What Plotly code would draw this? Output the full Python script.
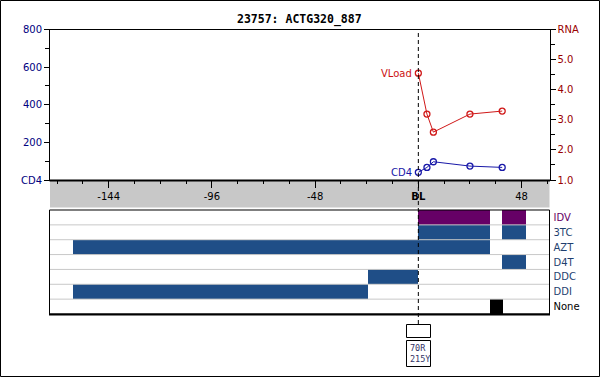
import plotly.graph_objects as go

W, H = 600, 377

# ---- data ----
vload_x = [0, 4, 7, 24, 39]
vload_y = [4.55, 3.19, 2.59, 3.19, 3.29]
cd4_x = [0, 4, 7, 24, 39]
cd4_y = [41, 67, 97, 74, 67]

drugs = ['IDV', '3TC', 'AZT', 'D4T', 'DDC', 'DDI', 'None']
drug_colors = {'IDV': '#660066', '3TC': '#1f4e87', 'AZT': '#1f4e87', 'D4T': '#1f4e87',
               'DDC': '#1f4e87', 'DDI': '#1f4e87', 'None': '#000000'}
label_colors = {'IDV': '#660066', 'None': '#000000'}
treat_drug = ['IDV', 'IDV', '3TC', '3TC', 'AZT', 'D4T', 'DDC', 'DDI', 'None']
treat_start = [0, 39, 0, 39, -160.4, 39, -23.5, -160.4, 33.2]
treat_end = [33.5, 50, 33.5, 50, 33.5, 50, 0, -23.5, 39.5]

x_tickvals = [-144, -96, -48, 0, 48]
x_ticktext = ['-144', '-96', '-48', '<b>BL</b>', '48']
cd4_tickvals = [0, 200, 400, 600, 800]
cd4_ticktext = ['CD4', '200', '400', '600', '800']
rna_tickvals = [1, 2, 3, 4, 5, 6]
rna_ticktext = ['1.0', '2.0', '3.0', '4.0', '5.0', 'RNA']
mutations = ['70R', '215Y']

XR = [-171.3, 61.0]


def px(x):
    return x / W


def py(y):
    return 1 - y / H


fig = go.Figure()

# top plot traces
fig.add_trace(go.Scatter(x=vload_x, y=vload_y, mode='lines+markers', yaxis='y2', xaxis='x',
                         line=dict(color='#d01818', width=1),
                         marker=dict(symbol='circle-open', size=6, color='#d01818', line=dict(width=1.3)),
                         showlegend=False, hoverinfo='skip'))
fig.add_trace(go.Scatter(x=cd4_x, y=cd4_y, mode='lines+markers', yaxis='y', xaxis='x',
                         line=dict(color='#1818a8', width=1),
                         marker=dict(symbol='circle-open', size=6, color='#1818a8', line=dict(width=1.3)),
                         showlegend=False, hoverinfo='skip'))

# treatment bars
for d, s, e in zip(treat_drug, treat_start, treat_end):
    fig.add_trace(go.Bar(x=[e - s], base=[s], y=[drugs.index(d)], orientation='h', width=1.0,
                         marker=dict(color=drug_colors[d], line=dict(width=0)),
                         xaxis='x2', yaxis='y3', showlegend=False, hoverinfo='skip'))

font = 'DejaVu Sans'
shapes = []
# gray band behind x tick labels
shapes.append(dict(type='rect', xref='paper', yref='paper', x0=px(50), x1=px(549.5), y0=py(207.5), y1=py(180),
                   fillcolor='#c8c8c8', line=dict(width=0), layer='below'))
# thicker bottom axis line
shapes.append(dict(type='line', xref='paper', yref='paper', x0=px(49.5), x1=px(550), y0=py(180.5), y1=py(180.5),
                   line=dict(color='black', width=2), layer='above'))
# row separators
for i in range(6):
    shapes.append(dict(type='line', xref='x2 domain', yref='y3', x0=0, x1=1, y0=i + 0.5, y1=i + 0.5,
                       line=dict(color='#c8c8c8', width=1), layer='above'))
# panel border
shapes.append(dict(type='rect', xref='paper', yref='paper', x0=px(49.5), x1=px(549.5), y0=py(314), y1=py(210),
                   line=dict(color='black', width=1)))
shapes.append(dict(type='line', xref='paper', yref='paper', x0=px(49), x1=px(550), y0=py(314.5), y1=py(314.5),
                   line=dict(color='black', width=2)))
# baseline dashed line
shapes.append(dict(type='line', xref='x', yref='paper', x0=0, x1=0, y0=py(324), y1=py(29.5),
                   line=dict(color='black', width=1, dash='4px,3px'), layer='above'))
# mutation boxes
shapes.append(dict(type='rect', xref='paper', yref='paper', x0=px(406.5), x1=px(430.5), y0=py(337.5), y1=py(324.5),
                   line=dict(color='black', width=1), fillcolor='white'))
shapes.append(dict(type='rect', xref='paper', yref='paper', x0=px(406.5), x1=px(430.5), y0=py(366.5), y1=py(340.5),
                   line=dict(color='black', width=1), fillcolor='white'))
# outer border
shapes.append(dict(type='rect', xref='paper', yref='paper', x0=px(0.5), x1=px(599.5), y0=py(376.5), y1=py(0.5),
                   line=dict(color='black', width=1)))

annotations = [
    dict(text='<b>23757: ACTG320_887</b>', xref='paper', yref='paper', x=px(299), y=py(20),
         xanchor='center', yanchor='middle',
         showarrow=False, font=dict(family='DejaVu Sans Mono', size=11.5, color='black')),
    dict(text='VLoad', xref='x', yref='y2', x=vload_x[0], y=vload_y[0], xanchor='right', yanchor='middle',
         xshift=-4, showarrow=False, font=dict(family=font, size=10, color='#cc1111')),
    dict(text='CD4', xref='x', yref='y', x=cd4_x[0], y=cd4_y[0], xanchor='right', yanchor='middle',
         xshift=-4, showarrow=False, font=dict(family=font, size=10, color='#1818a8')),
    dict(text='<br>'.join(mutations), xref='paper', yref='paper', x=px(407.5), y=py(353.5),
         xanchor='left', yanchor='middle',
         align='left', showarrow=False, font=dict(family='DejaVu Sans Mono', size=8.5, color='#333366')),
]

drug_ticktext = ['<span style="color:%s">%s</span>' % (label_colors.get(d, '#1f3f6f'), d) for d in drugs]

fig.update_layout(
    width=W, height=H, margin=dict(l=0, r=0, t=0, b=0, autoexpand=False),
    paper_bgcolor='white', plot_bgcolor='rgba(0,0,0,0)',
    barmode='overlay', bargap=0,
    shapes=shapes, annotations=annotations,
    xaxis=dict(domain=[px(50), px(549.5)], range=XR, tickvals=x_tickvals, ticktext=x_ticktext,
               ticks='outside', ticklen=7, tickcolor='black', showgrid=False, zeroline=False,
               showline=True, mirror=True, linecolor='black', linewidth=1, automargin=False,
               minor=dict(tickvals=[v for v in range(-168, 61, 12) if v not in x_tickvals],
                          ticks='outside', ticklen=3, tickcolor='black'),
               tickfont=dict(family=font, size=10, color='black'), anchor='y', fixedrange=True),
    yaxis=dict(domain=[py(180), py(29.5)], range=[0, 800], tickvals=cd4_tickvals, ticktext=cd4_ticktext,
               ticks='outside', ticklen=5, tickcolor='black', showgrid=False, zeroline=False,
               showline=True, linecolor='black', linewidth=1, automargin=False,
               minor=dict(tickvals=[100, 300, 500, 700], ticks='outside', ticklen=4, tickcolor='black'),
               tickfont=dict(family=font, size=10, color='#000080'), anchor='x'),
    yaxis2=dict(overlaying='y', side='right', range=[1, 6], tickvals=rna_tickvals, ticktext=rna_ticktext,
                ticks='outside', ticklen=5, tickcolor='black', showgrid=False, zeroline=False,
                showline=True, linecolor='black', linewidth=1, automargin=False,
                minor=dict(tickvals=[1.5, 2.5, 3.5, 4.5, 5.5], ticks='outside', ticklen=4, tickcolor='black'),
                tickfont=dict(family=font, size=10, color='#990000'), anchor='x'),
    xaxis2=dict(domain=[px(50), px(549.5)], range=XR, showticklabels=False, ticks='', showgrid=False,
                zeroline=False, showline=False, anchor='y3', automargin=False),
    yaxis3=dict(domain=[py(314), py(210)], range=[6.5, -0.5], side='right', tickvals=list(range(7)),
                ticktext=drug_ticktext, ticks='', showgrid=False, zeroline=False, showline=False,
                tickfont=dict(family=font, size=10), anchor='x2', ticklabelstandoff=3, automargin=False),
)

fig.write_html('out.html', config={'displayModeBar': False},
               post_script="document.body.style.margin='0px';")
